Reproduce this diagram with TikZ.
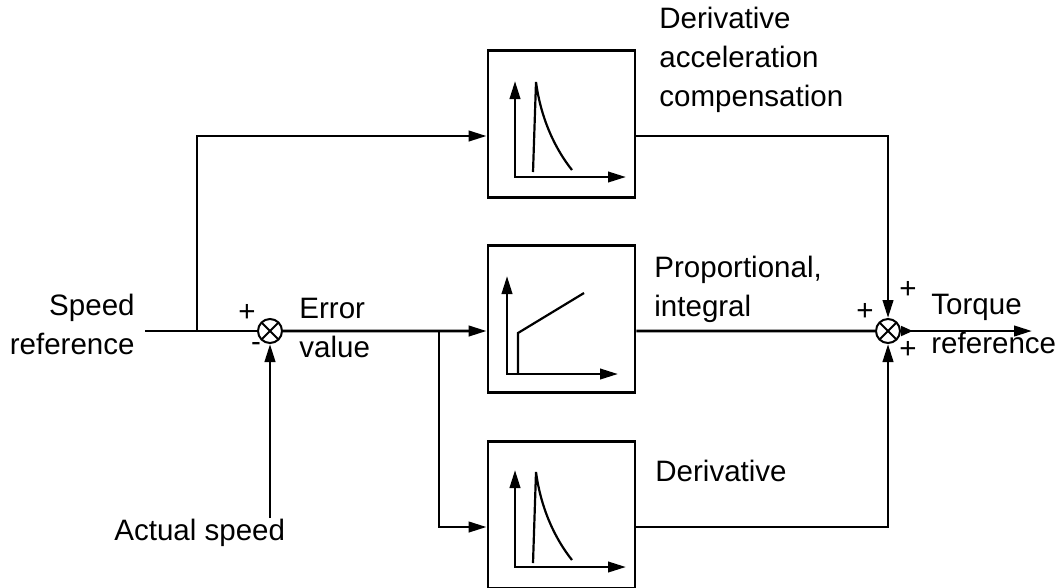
\documentclass[tikz,border=0pt]{standalone}
\usepackage{fontspec}
\setmainfont{Liberation Sans}
\usetikzlibrary{arrows.meta,positioning}

\begin{document}
\begin{tikzpicture}
  [x=0.25mm, y=-0.25mm,
   line width=0.7mm,
   >={Triangle[length=4.5mm,width=2.6mm]},
   every node/.style={font=\fontsize{21}{27.5}\selectfont},
   block/.style={rectangle,
                 draw=black,
                 minimum size=36.75mm,
                 inner sep=0pt},
   sumnode/.style={circle,
                   draw=black,
                   line width=0.5mm,
                   minimum size=6mm,
                   inner sep=0pt,
                   path picture={\draw[line width=0.5mm]
                     (path picture bounding box.north west) -- (path picture bounding box.south east)
                     (path picture bounding box.north east) -- (path picture bounding box.south west);}},
   txt/.style={inner sep=0pt, align=left},
   axes/.style={<->, line width=0.65mm},
   curve/.style={line width=0.55mm}]
  \useasboundingbox (0,0) rectangle (1061,587);

  % blocks and summing points
  \node[block]   (dac)  at (561.5,124) {};
  \node[block]   (pi)   at (561.5,319) {};
  \node[block]   (der)  at (561.5,515) {};
  \node[sumnode] (sum1) at (270,331)   {};
  \node[sumnode] (sum2) at (888,331)   {};

  % labels (base = last line)
  \node[txt, anchor=base east, align=right] (sref) at (136,354) {Speed\\reference};
  \node[txt, anchor=base west] (errv)  at (298,357) {Error\\value};
  \node[txt, anchor=base west] (aspd)  at (113,540) {Actual speed};
  \node[txt, anchor=base west] (dacl)  at (658,106) {Derivative\\acceleration\\compensation};
  \node[txt, anchor=base west] (pil)   at (653,316) {Proportional,\\integral};
  \node[txt, anchor=base west] (derl)  at (654,481) {Derivative};
  \node[txt, anchor=base west] (trefl) at (930,353) {Torque\\reference};
  \node (s1p) at (247,313) {+};
  \node (s1m) at (256,347) {-};
  \node (s2l) at (865,312) {+};
  \node (s2t) at (908,290) {+};
  \node (s2b) at (908,350) {+};

  % free ends and branch points
  \coordinate (sin)  at (145,331);
  \coordinate (br1)  at (197,331);
  \coordinate (br2)  at (439,331);
  \coordinate (ain)  at (270,518);
  \coordinate (tout) at (1032,331);

  % connectors
  \draw (sin) -- (sum1);
  \draw[->] (br1) |- ([yshift=-3mm]dac.west);
  \draw[->] (ain) -- (sum1);
  \draw[->] (sum1) -- ([yshift=-3mm]pi.west);
  \draw[->] (br2) |- ([yshift=-3mm]der.west);
  \draw[->] ([yshift=-3mm]dac.east) -| (sum2);
  \draw     ([yshift=-3mm]pi.east) -- (sum2);
  \draw[->] ([yshift=-3mm]der.east) -| (sum2);
  \draw[{Triangle[reversed,length=3mm,width=2.4mm]}->] (sum2) -- (tout);

  % curves inside the blocks
  \draw[axes] (515,81) -- (515,177) -- (626,177);
  \draw[curve] (533,172) -- (536,82) .. controls (541,120) and (556,150) .. (572,170);
  \draw[axes] (507,276) -- (507,374) -- (618,374);
  \draw[curve] (518,374) -- (518,333) -- (584,293);
  \draw[axes] (515,470) -- (515,567) -- (626,567);
  \draw[curve] (533,563) -- (536,472) .. controls (541,510) and (556,540) .. (572,560);
\end{tikzpicture}
\end{document}
